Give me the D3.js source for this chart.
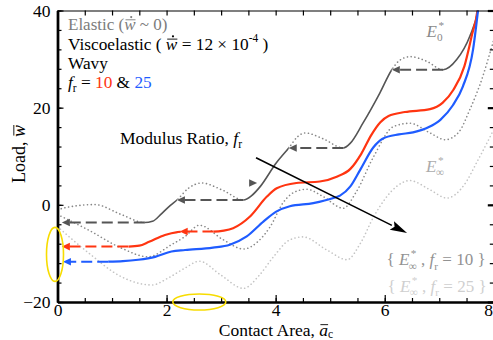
<!DOCTYPE html>
<html>
<head>
<meta charset="utf-8">
<script src="https://cdn.jsdelivr.net/npm/d3@7"></script>
<style>
  html, body { margin: 0; padding: 0; background: #fff; }
  svg { display: block; }
  text { font-family: "Liberation Serif", "Times New Roman", serif; }
</style>
</head>
<body>
<svg id="chart" width="493" height="340"></svg>
<script>
// ---- data (contact area a_c, load w) ----
const xMajorTicks = [0, 2, 4, 6, 8];
const yMajorTicks = [-20, 0, 20, 40];

// elastic response with instantaneous modulus E0*
const elasticCurve = [[0,-1.0],[0.2,-0.45],[0.69,0.05],[1.15,-1.9],[1.6,-3.65],[1.74,-3.4],[1.91,-1.8],[2.07,-0.1],[2.19,1.0],[2.4,3.4],[2.64,4.5],[3.03,3.0],[3.41,1.0],[3.56,1.9],[3.72,3.8],[4.01,8.6],[4.24,11.7],[4.4,14.0],[4.54,14.8],[4.87,13.6],[5.24,11.7],[5.37,12.7],[5.6,16.8],[5.91,23],[6.13,27.8],[6.28,29.8],[6.47,30.5],[6.76,29.6],[7.07,27.8],[7.32,29.9],[7.56,34.7],[7.71,40],[7.74,42]];
const elasticStable = [[1.6,2.19],[3.41,4.24],[5.24,6.13],[7.07,8]];
const elasticUnstable = [[0,1.6],[2.19,3.41],[4.24,5.24],[6.13,7.07]];
const elasticJumps = [[-3.65,1.6,0.08],[1.0,3.41,2.19],[11.7,5.24,4.24],[27.8,7.07,6.13]]; // [load, from, to]
const elasticLoadingMark = [3.66, 4.5];

// viscoelastic, f_r = 10
const visco10 = [[1.3,-8.6],[1.5,-8.4],[1.68,-7.6],[1.97,-6.2],[2.2,-5.6],[2.3,-5.5],[2.86,-5.5],[3.05,-5.3],[3.22,-4.8],[3.53,-2.4],[3.84,1.7],[4.02,3.4],[4.38,4.5],[4.81,4.8],[5.12,5.8],[5.37,7.4],[5.57,10.5],[5.75,14.3],[5.92,17.0],[6.07,18.3],[6.37,19.1],[6.83,19.7],[7.06,21],[7.26,23.7],[7.46,28.5],[7.6,35],[7.7,40],[7.72,42]];
const visco10Solid = [[1.3,2.26],[2.86,8]];
const visco10Jumps = [[-8.6,1.3,0.08],[-5.5,2.86,2.24]];

// viscoelastic, f_r = 25
const visco25 = [[0.93,-11.7],[1.2,-11.6],[1.48,-11.3],[1.79,-10.7],[2.09,-9.6],[2.34,-9.3],[2.85,-8.8],[3.16,-8.2],[3.47,-6.5],[3.78,-3.4],[4.01,-1.4],[4.26,-0.3],[4.69,0.35],[5.06,1.4],[5.18,1.9],[5.37,3.8],[5.55,7.2],[5.79,11.8],[5.96,13.6],[6.26,14.5],[6.52,14.9],[6.81,16],[7.02,17.5],[7.25,20.5],[7.43,24.3],[7.62,32],[7.71,40],[7.73,42]];
const visco25Jumps = [[-11.7,0.93,0.1]];

// elastic responses with relaxed modulus E_inf*
const relaxed10 = [[0,-2.0],[0.57,-5.2],[1.17,-8.9],[1.66,-10.7],[2.09,-8.2],[2.34,-6.5],[2.6,-4.2],[3.04,-7.2],[3.41,-9.1],[3.68,-7.5],[3.9,-4.5],[4.14,0.5],[4.38,2.8],[4.57,3.2],[4.87,1.7],[5.24,-0.7],[5.47,2.5],[5.8,10],[6.16,16.1],[6.46,16.8],[6.83,14.8],[7.11,13.4],[7.36,15],[7.56,19.6],[7.8,26.5],[7.93,31.3],[8.0,34]];
const relaxed25 = [[0,-4.5],[0.57,-9.9],[1.17,-14.8],[1.73,-16.5],[2.04,-15],[2.34,-13],[2.6,-11.6],[3.0,-14.5],[3.41,-17.2],[3.7,-14.5],[3.96,-10.7],[4.26,-7.2],[4.5,-6.6],[4.94,-9.3],[5.31,-11.3],[5.55,-8],[5.8,-2.4],[6.22,3.8],[6.46,5.0],[6.83,3.1],[7.14,1.4],[7.45,4.0],[7.7,9.0],[8.0,15.5]];

// modulus-ratio trend arrow [from, to]
const ratioArrow = [[3.64, 9.7], [6.41, -5.8]];

// ---- styles ----
const C = {
  elastic: "#555555", elasticDot: "#858585",
  red: "#ff3511", blue: "#1f5cff",
  relaxed10: "#8a8a8a", relaxed25: "#c4c4c4",
  yellow: "#f7dc00"
};

const svg = d3.select("#chart");
const W = 493, H = 340;
svg.append("rect").attr("width", W).attr("height", H).attr("fill", "#fff");

const x = d3.scaleLinear().domain([0, 8]).range([57.5, 493.8]);
const y = d3.scaleLinear().domain([-20, 40]).range([302, 10.5]);

const defs = svg.append("defs");
defs.append("clipPath").attr("id", "plotClip").append("rect")
  .attr("x", x(0)).attr("y", y(40)).attr("width", x(8) - x(0)).attr("height", y(-20) - y(40));

function addRangeClip(id, ranges) {
  const cp = defs.append("clipPath").attr("id", id);
  ranges.forEach(([a, b]) => {
    cp.append("rect").attr("x", x(a)).attr("y", 0)
      .attr("width", x(b) - x(a)).attr("height", H);
  });
}
addRangeClip("elStable", elasticStable);
addRangeClip("elUnstable", elasticUnstable);
addRangeClip("v10Solid", visco10Solid);

const line = d3.line().x(d => x(d[0])).y(d => y(d[1])).curve(d3.curveMonotoneX);

const plot = svg.append("g").attr("clip-path", "url(#plotClip)");

function dotted(g, data, color) {
  g.append("path").attr("d", line(data)).attr("fill", "none")
    .attr("stroke", color).attr("stroke-width", 1.6)
    .attr("stroke-linecap", "round").attr("stroke-dasharray", "0.1,3.7");
}

// relaxed-modulus references
dotted(plot, relaxed25, C.relaxed25);
dotted(plot, relaxed10, C.relaxed10);

// elastic curve: unstable (dotted) and stable (solid) portions
dotted(plot.append("g").attr("clip-path", "url(#elUnstable)"), elasticCurve, C.elasticDot);
plot.append("g").attr("clip-path", "url(#elStable)")
  .append("path").attr("d", line(elasticCurve)).attr("fill", "none")
  .attr("stroke", C.elastic).attr("stroke-width", 1.6);

// viscoelastic curves
plot.append("g").attr("clip-path", "url(#v10Solid)")
  .append("path").attr("d", line(visco10)).attr("fill", "none")
  .attr("stroke", C.red).attr("stroke-width", 2.2);
plot.append("path").attr("d", line(visco25)).attr("fill", "none")
  .attr("stroke", C.blue).attr("stroke-width", 2.2);

// unloading jumps: dashed with arrowheads
function jumps(list, color) {
  list.forEach(([load, from, to]) => {
    plot.append("line")
      .attr("x1", x(from)).attr("x2", x(to) + 5).attr("y1", y(load)).attr("y2", y(load))
      .attr("stroke", color).attr("stroke-width", 2).attr("stroke-dasharray", "11,5");
    const tx = x(to), ty = y(load);
    plot.append("path")
      .attr("d", `M${tx},${ty} L${tx + 8},${ty - 3.8} L${tx + 8},${ty + 3.8} Z`)
      .attr("fill", color);
  });
}
jumps(elasticJumps, C.elastic);
jumps(visco10Jumps, C.red);
jumps(visco25Jumps, C.blue);

// loading-direction marker on the elastic curve
{
  const tx = x(elasticLoadingMark[0]), ty = y(elasticLoadingMark[1]);
  plot.append("path").attr("d", `M${tx},${ty} L${tx - 8},${ty - 3.8} L${tx - 8},${ty + 3.8} Z`)
    .attr("fill", C.elastic);
}

// modulus-ratio arrow
{
  const [p0, p1] = ratioArrow;
  const x0 = x(p0[0]), y0 = y(p0[1]), x1 = x(p1[0]), y1 = y(p1[1]);
  const ang = Math.atan2(y1 - y0, x1 - x0);
  const L = 17, hw = 4.8;
  const bx = x1 - L * Math.cos(ang), by = y1 - L * Math.sin(ang);
  svg.append("line").attr("x1", x0).attr("y1", y0).attr("x2", bx).attr("y2", by)
    .attr("stroke", "#000").attr("stroke-width", 1.5);
  svg.append("path")
    .attr("d", `M${x1},${y1} L${bx + hw * Math.sin(ang)},${by - hw * Math.cos(ang)} L${bx + 3 * Math.cos(ang)},${by + 3 * Math.sin(ang)} L${bx - hw * Math.sin(ang)},${by + hw * Math.cos(ang)} Z`)
    .attr("fill", "#000");
}

// ---- axes ----
const TICK_FS = 17.5;
const axG = svg.append("g");
function styleAxis(g, width) {
  g.select(".domain").attr("stroke", "#000").attr("stroke-width", width);
  g.selectAll(".tick line").attr("stroke", "#000").attr("stroke-width", 1.2);
  g.selectAll("text").attr("fill", "#000").attr("font-size", TICK_FS)
    .attr("font-family", '"Liberation Serif", "Times New Roman", serif');
}
const xMinor = d3.range(0, 8.001, 0.5);
const yMinor = d3.range(-20, 40.001, 4);

// bottom
const gb = axG.append("g").attr("transform", `translate(0,${y(-20)})`);
gb.append("g").call(d3.axisBottom(x).tickValues(xMinor).tickSizeInner(-4).tickSizeOuter(0).tickFormat(""))
  .call(g => styleAxis(g, 2.2));
gb.append("g").call(d3.axisBottom(x).tickValues(xMajorTicks).tickSizeInner(-7).tickSizeOuter(0).tickPadding(2).tickFormat(d3.format("d")))
  .call(g => styleAxis(g, 2.2))
  // keep the last label inside the canvas edge
  .call(g => g.selectAll(".tick").filter(d => d === 8).select("text")
    .attr("text-anchor", "end").attr("x", W - 0.5 - x(8)));
// top
const gt = axG.append("g").attr("transform", `translate(0,${y(40)})`);
gt.append("g").call(d3.axisTop(x).tickValues(xMinor).tickSizeInner(-5).tickSizeOuter(0).tickFormat(""))
  .call(g => styleAxis(g, 1.2));
// left
const gl = axG.append("g").attr("transform", `translate(${x(0)},0)`);
gl.append("g").call(d3.axisLeft(y).tickValues(yMinor).tickSizeInner(-4).tickSizeOuter(0).tickFormat(""))
  .call(g => styleAxis(g, 2.4));
gl.append("g").call(d3.axisLeft(y).tickValues(yMajorTicks).tickSizeInner(-6).tickSizeOuter(0).tickPadding(7).tickFormat(d3.format("d")))
  .call(g => styleAxis(g, 2.4));
// right
const gr = axG.append("g").attr("transform", `translate(${x(8)},0)`);
gr.append("g").call(d3.axisRight(y).tickValues(yMinor).tickSizeInner(-4).tickSizeOuter(0).tickFormat(""))
  .call(g => styleAxis(g, 1.2));
gr.append("g").call(d3.axisRight(y).tickValues(yMajorTicks).tickSizeInner(-6).tickSizeOuter(0).tickFormat(""))
  .call(g => { styleAxis(g, 1.2); g.selectAll(".tick line").attr("stroke-width", 2.2); });

// ---- rich text helper ----
function rich(parent, px, py, parts, opt = {}) {
  const size = opt.size || 17;
  const fill = opt.fill || "#000";
  const subDrop = opt.subDrop != null ? opt.subDrop : 0.28;
  const g = parent.append("g");
  let cx = 0;
  parts.forEach(p => {
    const fs = p.size || ((p.sub || p.sup) ? size * 0.66 : size);
    const dy = p.sub ? size * subDrop : p.sup ? -size * 0.45 : 0;
    const t = g.append("text").attr("x", cx + (p.dx || 0)).attr("y", dy)
      .attr("font-size", fs).attr("font-style", p.it ? "italic" : "normal")
      .attr("fill", p.fill || fill).style("white-space", "pre").text(p.t);
    const w = t.node().getComputedTextLength();
    if (p.bar) {
      g.append("line").attr("x1", cx + w * 0.12 + (p.dx || 0)).attr("x2", cx + w * 1.0 + (p.dx || 0))
        .attr("y1", -size * (p.barY || 0.6)).attr("y2", -size * (p.barY || 0.6))
        .attr("stroke", p.fill || fill).attr("stroke-width", 0.9);
    }
    if (p.dot) {
      g.append("circle").attr("cx", cx + w * 0.62 + (p.dx || 0)).attr("cy", -size * 0.76)
        .attr("r", 1.1).attr("fill", p.fill || fill);
    }
    if (!p.noAdvance) cx += w + (p.dx || 0);
  });
  let tx = px;
  if (opt.anchor === "middle") tx = px - cx / 2;
  if (opt.anchor === "end") tx = px - cx;
  g.attr("transform", `translate(${tx},${py})`);
  if (opt.rotate) {
    g.attr("transform", `translate(${px},${py}) rotate(${opt.rotate}) translate(${-cx / 2},0)`);
  }
  return g;
}

// legend block
const legendGray = "#7c7c7c";
rich(svg, 68, 30, [
  { t: "Elastic (" },
  { t: "w", it: true, bar: true, dot: true },
  { t: " ~ 0)" }
], { fill: legendGray, size: 17 });
rich(svg, 68, 49.5, [
  { t: "Viscoelastic ( " },
  { t: "w", it: true, bar: true, dot: true },
  { t: " = 12 × 10" },
  { t: "-4", sup: true },
  { t: " )" }
], { size: 17.3 });
rich(svg, 68, 68.5, [{ t: "Wavy" }], { size: 17.3 });
rich(svg, 68, 87.5, [
  { t: "f", it: true },
  { t: "r", sub: true },
  { t: " = " },
  { t: "10", fill: C.red },
  { t: " & " },
  { t: "25", fill: C.blue }
], { size: 17.3 });

// modulus ratio caption
rich(svg, 120, 143.5, [
  { t: "Modulus Ratio, " },
  { t: "f", it: true },
  { t: "r", sub: true }
], { size: 17.5 });

// modulus labels
rich(svg, 426.5, 36.5, [
  { t: "E", it: true },
  { t: "*", sup: true, noAdvance: true, dx: 1.5 },
  { t: "0", sub: true, dx: 0 }
], { fill: "#8a8a8a", size: 17 });
rich(svg, 426, 171.5, [
  { t: "E", it: true },
  { t: "*", sup: true, noAdvance: true, dx: 1.5 },
  { t: "∞", sub: true, dx: -0.5 }
], { fill: "#ababab", size: 17 });

rich(svg, 386.5, 265, [
  { t: "{ " },
  { t: "E", it: true },
  { t: "*", sup: true, noAdvance: true, dx: 1.5 },
  { t: "∞", sub: true, dx: -0.5 },
  { t: " , " },
  { t: "f", it: true },
  { t: "r", sub: true },
  { t: " = 10 }" }
], { fill: "#929292", size: 17 });
rich(svg, 387.5, 291.5, [
  { t: "{ " },
  { t: "E", it: true },
  { t: "*", sup: true, noAdvance: true, dx: 1.5 },
  { t: "∞", sub: true, dx: -0.5 },
  { t: " , " },
  { t: "f", it: true },
  { t: "r", sub: true },
  { t: " = 25 }" }
], { fill: "#cfcfcf", size: 17 });

// axis titles
rich(svg, 276, 335.5, [
  { t: "Contact Area, " },
  { t: "a", it: true, bar: true, barY: 0.62 },
  { t: "c", sub: true }
], { anchor: "middle", size: 17.5, subDrop: 0.13 });
rich(svg, 25, 154, [
  { t: "Load, " },
  { t: "w", it: true, bar: true, barY: 0.62 }
], { rotate: -90, size: 18 });

// highlight ellipses
svg.append("ellipse").attr("cx", x(0) - 2.5).attr("cy", y(-10.2)).attr("rx", 8.5).attr("ry", 27)
  .attr("fill", "none").attr("stroke", C.yellow).attr("stroke-width", 1.6);
svg.append("ellipse").attr("cx", x(2.6)).attr("cy", y(-20)).attr("rx", 26.5).attr("ry", 8)
  .attr("fill", "none").attr("stroke", C.yellow).attr("stroke-width", 1.6);
</script>
</body>
</html>
